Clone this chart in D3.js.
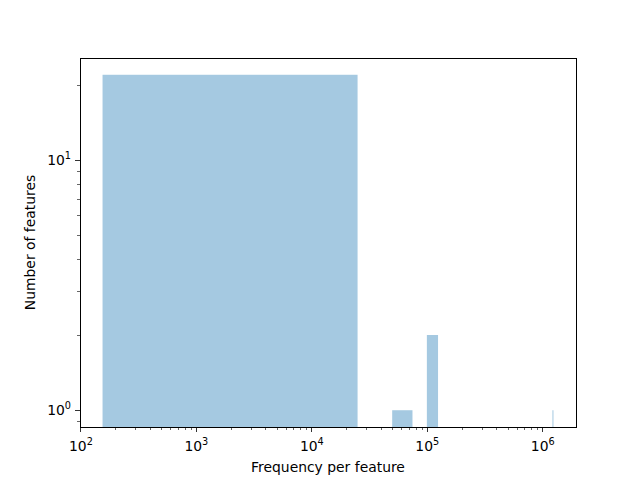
<!DOCTYPE html>
<html><head><meta charset="utf-8">
<script src="https://cdn.jsdelivr.net/npm/d3@7"></script>
<style>body{margin:0;background:#fff}text{font-family:"DejaVu Sans",sans-serif;fill:#000}line,.frame{shape-rendering:crispEdges}</style>
</head><body><svg id="c" width="640" height="480"></svg>
<script>
// Histogram bins (non-empty only): lower edge, upper edge, count
const binLo = [154, 49654, 99154, 1212904];
const binHi = [24904, 74404, 123904, 1237654];
const counts = [22, 1, 2, 1];
const xMajorExps = [2, 3, 4, 5, 6];
const yMajorExps = [0, 1];
const xLabel = "Frequency per feature";
const yLabel = "Number of features";

const W = 640, H = 480;
const m = {left: 80, right: 64, top: 58, bottom: 53};
const iw = W - m.left - m.right, ih = H - m.top - m.bottom;
const svg = d3.select("#c");
const g = svg.append("g").attr("transform", `translate(${m.left},${m.top})`);

// log domains with 5% margins in log space (matplotlib style)
const lx0 = Math.log10(d3.min(binLo)), lx1 = Math.log10(d3.max(binHi));
const mx = (lx1 - lx0) * 0.05;
const x = d3.scaleLog().domain([10 ** (lx0 - mx), 10 ** (lx1 + mx)]).range([0, iw]);
const ly0 = 0, ly1 = Math.log10(d3.max(counts));
const my = (ly1 - ly0) * 0.05;
const y = d3.scaleLog().domain([10 ** (ly0 - my), 10 ** (ly1 + my)]).range([ih, 0]);

const bars = binLo.map((lo, i) => ({lo, hi: binHi[i], c: counts[i]}));
g.selectAll("rect.bar").data(bars).enter().append("rect")
  .attr("x", d => x(d.lo)).attr("width", d => Math.max(0.6, x(d.hi) - x(d.lo)))
  .attr("y", d => y(d.c)).attr("height", d => ih - y(d.c))
  .attr("fill", "#1f77b4").attr("fill-opacity", 0.4);

// ticks
function minorTicks(scale) {
  const [a, b] = scale.domain();
  const out = [];
  for (let e = Math.floor(Math.log10(a)); e <= Math.ceil(Math.log10(b)); e++)
    for (let k = 2; k <= 9; k++) { const v = k * 10 ** e; if (v >= a && v <= b) out.push(v); }
  return out;
}
const fs = 13.9;
// x axis
const xa = g.append("g").attr("transform", `translate(0,${ih})`);
xa.selectAll("line.maj").data(xMajorExps).enter().append("line")
  .attr("x1", d => x(10 ** d)).attr("x2", d => x(10 ** d)).attr("y1", 0).attr("y2", 4.86)
  .attr("stroke", "#000").attr("stroke-width", 0.8);
xa.selectAll("line.min").data(minorTicks(x)).enter().append("line")
  .attr("x1", d => x(d)).attr("x2", d => x(d)).attr("y1", 0).attr("y2", 2.78)
  .attr("stroke", "#000").attr("stroke-width", 0.6);
const xt = xa.selectAll("text.t").data(xMajorExps).enter().append("text")
  .attr("x", d => x(10 ** d)).attr("y", 24).attr("text-anchor", "middle").attr("font-size", fs);
xt.append("tspan").text("10");
xt.append("tspan").attr("dy", -6).attr("font-size", fs * 0.7).text(d => d);

// y axis
const ya = g.append("g");
ya.selectAll("line.maj").data(yMajorExps).enter().append("line")
  .attr("y1", d => y(10 ** d)).attr("y2", d => y(10 ** d)).attr("x1", 0).attr("x2", -4.86)
  .attr("stroke", "#000").attr("stroke-width", 0.8);
ya.selectAll("line.min").data(minorTicks(y)).enter().append("line")
  .attr("y1", d => y(d)).attr("y2", d => y(d)).attr("x1", 0).attr("x2", -2.78)
  .attr("stroke", "#000").attr("stroke-width", 0.6);
const yt = ya.selectAll("text.t").data(yMajorExps).enter().append("text")
  .attr("x", -9).attr("y", d => y(10 ** d) + 5).attr("text-anchor", "end").attr("font-size", fs);
yt.append("tspan").text("10");
yt.append("tspan").attr("dy", -6).attr("font-size", fs * 0.7).text(d => d);

// frame
g.append("rect").attr("class", "frame").attr("width", iw).attr("height", ih).attr("fill", "none")
  .attr("stroke", "#000").attr("stroke-width", 1);

// labels
svg.append("text").attr("x", m.left + iw / 2).attr("y", 472).attr("text-anchor", "middle")
  .attr("font-size", fs).text(xLabel);
svg.append("text").attr("transform", `translate(35,${m.top + ih / 2}) rotate(-90)`)
  .attr("text-anchor", "middle").attr("font-size", fs).text(yLabel);
</script></body></html>
